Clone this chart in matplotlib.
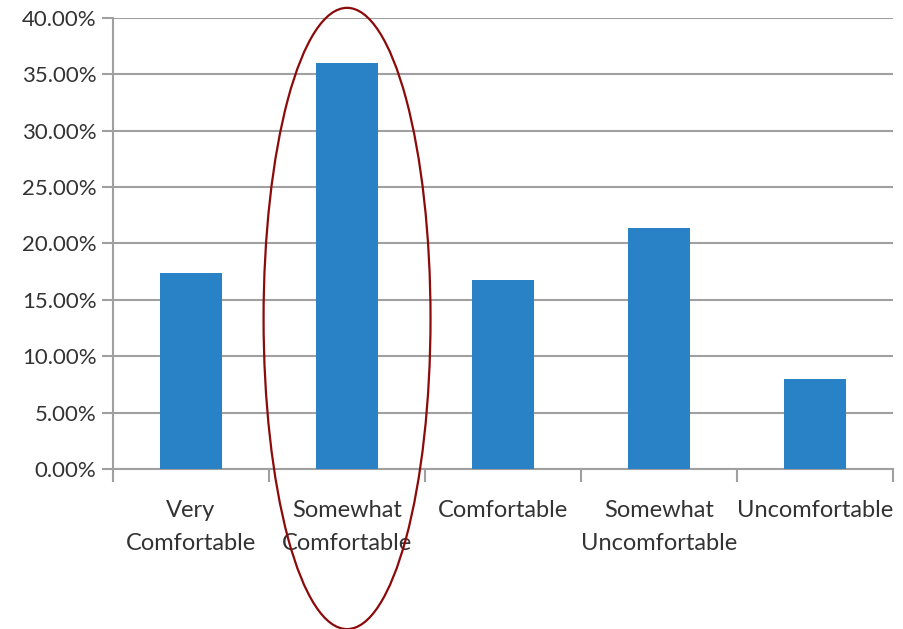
import matplotlib
matplotlib.use("Agg")
import matplotlib.pyplot as plt
from matplotlib.patches import Ellipse
from matplotlib.ticker import FuncFormatter, MultipleLocator, FixedLocator

categories = ["Very\nComfortable", "Somewhat\nComfortable", "Comfortable",
              "Somewhat\nUncomfortable", "Uncomfortable"]
shares = [17.4, 36.0, 16.8, 21.4, 8.0]  # percent of respondents
highlight_index = 1

plt.rcParams['font.family'] = ['Lato', 'DejaVu Sans']

fig = plt.figure(figsize=(9.04, 6.29), dpi=100)
ax = fig.add_axes([0.125, 0.2544, 0.863, 0.717])

grid_col = "#a0a0a0"
text_col = "#333333"

x = list(range(len(categories)))
ax.bar(x, shares, width=0.4, color="#2a82c6", zorder=3)

ax.set_xlim(-0.5, len(categories) - 0.5)
ax.set_ylim(0, 40)
ax.yaxis.set_major_locator(MultipleLocator(5))
ax.yaxis.set_major_formatter(FuncFormatter(lambda v, p: f"{v:.2f}%"))
ax.grid(axis="y", color=grid_col, linewidth=1.5, zorder=0)
ax.set_axisbelow(True)

ax.set_xticks(x)
ax.set_xticklabels(categories, linespacing=1.75)
ax.xaxis.set_minor_locator(FixedLocator([i - 0.5 for i in range(len(categories) + 1)]))
ax.tick_params(axis="x", which="major", length=0, pad=22, labelsize=17, labelcolor=text_col)
ax.tick_params(axis="x", which="minor", length=9, width=1.5, color=grid_col)
ax.tick_params(axis="y", length=8, width=1.5, color=grid_col, labelsize=16,
               labelcolor=text_col, pad=4)

for s in ("top", "right"):
    ax.spines[s].set_visible(False)
for s in ("left", "bottom"):
    ax.spines[s].set_color(grid_col)
    ax.spines[s].set_linewidth(1.5)

# Ring around the highlighted category
ring = Ellipse((highlight_index, 13.35), 1.07, 55.1, fill=False,
               edgecolor="#8b0a0a", linewidth=1.6, clip_on=False, zorder=5)
ax.add_patch(ring)

fig.savefig("out.png", dpi=100, facecolor="white")
